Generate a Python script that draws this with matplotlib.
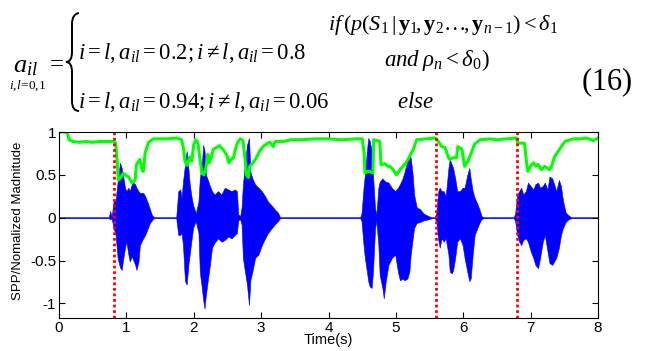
import matplotlib

matplotlib.use('Agg')
import matplotlib.pyplot as plt
from matplotlib.patches import PathPatch
from matplotlib.path import Path
from matplotlib.transforms import IdentityTransform

plt.rcParams['font.family'] = ['Liberation Sans', 'DejaVu Sans']
plt.rcParams['mathtext.fontset'] = 'custom'
plt.rcParams['mathtext.rm'] = 'Liberation Serif'
plt.rcParams['mathtext.it'] = 'Liberation Serif:italic'
plt.rcParams['mathtext.bf'] = 'Liberation Serif:bold'

# speech waveform envelope: time (s), upper and lower peak
wave_t = [0.0, 0.74, 0.76, 0.78,
          0.81, 0.84, 0.87, 0.905, 0.93, 0.955, 0.98, 1.00, 1.03, 1.05, 1.08, 1.10, 1.13, 1.15,
          1.18, 1.20, 1.25, 1.28, 1.32, 1.35, 1.38, 1.41,
          1.74, 1.77, 1.80, 1.82, 1.84, 1.87, 1.895, 1.92, 1.94, 1.97, 1.99, 2.03, 2.07, 2.09,
          2.12, 2.14, 2.16, 2.18, 2.20, 2.24, 2.27, 2.31, 2.36, 2.41, 2.46, 2.51, 2.56, 2.61,
          2.64, 2.66, 2.69, 2.71, 2.73, 2.76, 2.79, 2.82, 2.84, 2.87, 2.91, 2.96, 3.01, 3.06,
          3.10, 3.16, 3.20, 3.25, 3.28,
          4.47, 4.49, 4.52, 4.54, 4.57, 4.59, 4.61, 4.64, 4.66, 4.69, 4.71, 4.74, 4.76, 4.80,
          4.82, 4.85, 4.89, 4.94, 4.99, 5.03, 5.06, 5.10, 5.13, 5.17, 5.20, 5.22, 5.25, 5.27,
          5.31, 5.36, 5.41, 5.48, 5.53, 5.58,
          5.60, 5.63, 5.65, 5.68, 5.71, 5.74, 5.78, 5.80, 5.83, 5.85, 5.88, 5.91, 5.95, 5.99,
          6.02, 6.06, 6.09, 6.11, 6.14, 6.17, 6.21, 6.24, 6.27, 6.30,
          6.75, 6.77, 6.80, 6.83, 6.86, 6.89, 6.93, 6.96, 7.00, 7.04, 7.07, 7.11, 7.14, 7.18,
          7.21, 7.25, 7.28, 7.32, 7.35, 7.38, 7.42, 7.45, 7.48, 7.52, 7.56, 7.60, 8.0]
wave_upper = [0.006, 0.006, 0.08, 0.006,
              0.19, 0.20, 0.42, 0.64, 0.58, 0.47, 0.35, 0.31, 0.35, 0.31, 0.39, 0.41, 0.39, 0.35,
              0.31, 0.29, 0.29, 0.25, 0.17, 0.10, 0.03, 0.006,
              0.006, 0.31, 0.33, 0.23, 0.42, 0.62, 0.78, 0.58, 0.39, 0.23, 0.15, 0.05, 0.19, 0.46,
              0.62, 0.85, 0.78, 0.50, 0.46, 0.37, 0.31, 0.27, 0.31, 0.27, 0.35, 0.33, 0.31, 0.33,
              0.31, 0.04, 0.02, 0.12, 0.39, 0.62, 0.85, 0.93, 0.54, 0.46, 0.39, 0.35, 0.31, 0.25,
              0.19, 0.14, 0.10, 0.06, 0.006,
              0.006, 0.05, 0.35, 0.50, 0.78, 0.93, 0.90, 0.78, 0.50, 0.12, 0.03, 0.35, 0.42, 0.46,
              0.44, 0.42, 0.41, 0.35, 0.31, 0.35, 0.39, 0.46, 0.54, 0.66, 0.74, 0.70, 0.50, 0.27,
              0.12, 0.10, 0.05, 0.02, 0.006, 0.006,
              0.06, 0.31, 0.35, 0.31, 0.31, 0.25, 0.58, 0.68, 0.62, 0.58, 0.46, 0.31, 0.31, 0.35,
              0.35, 0.50, 0.58, 0.46, 0.31, 0.23, 0.16, 0.10, 0.02, 0.006,
              0.006, 0.05, 0.27, 0.31, 0.35, 0.27, 0.31, 0.41, 0.37, 0.33, 0.39, 0.41, 0.35, 0.37,
              0.41, 0.33, 0.48, 0.46, 0.39, 0.31, 0.44, 0.37, 0.20, 0.06, 0.03, 0.006, 0.006]
wave_lower = [-0.006, -0.006, -0.02, -0.006,
              -0.12, -0.20, -0.47, -0.58, -0.61, -0.47, -0.35, -0.28, -0.43, -0.51, -0.45, -0.49, -0.55, -0.61,
              -0.51, -0.32, -0.24, -0.20, -0.12, -0.06, -0.03, -0.006,
              -0.006, -0.20, -0.20, -0.18, -0.32, -0.74, -0.78, -0.55, -0.43, -0.24, -0.12, -0.04, -0.18, -0.63,
              -0.82, -0.96, -1.06, -0.90, -0.78, -0.55, -0.35, -0.29, -0.24, -0.28, -0.26, -0.22, -0.24, -0.20,
              -0.18, -0.03, -0.02, -0.08, -0.47, -0.63, -0.78, -1.02, -0.73, -0.63, -0.47, -0.43, -0.32, -0.24,
              -0.18, -0.12, -0.08, -0.04, -0.006,
              -0.006, -0.04, -0.32, -0.47, -0.63, -0.74, -0.80, -0.82, -0.63, -0.14, -0.03, -0.32, -0.67, -0.82,
              -0.94, -0.74, -0.55, -0.47, -0.43, -0.63, -0.73, -0.71, -0.73, -0.71, -0.63, -0.43, -0.24, -0.12,
              -0.06, -0.05, -0.03, -0.02, -0.006, -0.006,
              -0.05, -0.26, -0.35, -0.24, -0.28, -0.24, -0.43, -0.63, -0.65, -0.61, -0.47, -0.28, -0.24, -0.32,
              -0.47, -0.63, -0.74, -0.71, -0.43, -0.20, -0.12, -0.06, -0.02, -0.006,
              -0.006, -0.04, -0.20, -0.28, -0.32, -0.26, -0.24, -0.28, -0.39, -0.47, -0.55, -0.59, -0.47, -0.28,
              -0.20, -0.39, -0.53, -0.55, -0.51, -0.47, -0.35, -0.20, -0.12, -0.05, -0.02, -0.006, -0.006]

# speech presence probability curve
spp_t = [0.0, 0.12, 0.15, 0.2, 0.3, 0.4, 0.5, 0.6, 0.7, 0.81, 0.84, 0.865, 0.88, 0.92, 0.955,
         1.0, 1.03, 1.08, 1.11, 1.13, 1.15, 1.2, 1.23, 1.25, 1.28, 1.33, 1.4, 1.6,
         1.75, 1.82, 1.85, 1.87, 1.9, 1.94, 1.97, 2.0, 2.03, 2.06, 2.09, 2.12, 2.15, 2.18, 2.21,
         2.23, 2.26, 2.29, 2.34, 2.38, 2.44, 2.49, 2.52, 2.55, 2.59, 2.62, 2.65, 2.69, 2.73,
         2.76, 2.78, 2.81, 2.83, 2.88, 2.93, 2.98, 3.03, 3.08, 3.13, 3.18, 3.21, 3.33, 3.45,
         3.6, 3.8, 4.0, 4.2, 4.4, 4.5, 4.53, 4.54, 4.58, 4.61, 4.66, 4.67, 4.72, 4.76, 4.78,
         4.84, 4.88, 4.91, 4.96, 5.01, 5.06, 5.13, 5.18, 5.26, 5.31, 5.45, 5.58, 5.63, 5.68,
         5.73, 5.78, 5.8, 5.85, 5.9, 5.92, 5.98, 6.02, 6.07, 6.12, 6.17, 6.25, 6.4, 6.5, 6.65,
         6.79, 6.81, 6.91, 6.94, 6.96, 7.0, 7.04, 7.08, 7.11, 7.16, 7.21, 7.28, 7.31, 7.36,
         7.43, 7.51, 7.63, 7.75, 7.83, 7.93, 8.0]
spp = [1.0, 1.0, 0.91, 0.89, 0.88, 0.89, 0.88, 0.89, 0.89, 0.89, 0.87, 0.64, 0.44, 0.47, 0.52,
       0.49, 0.48, 0.41, 0.42, 0.44, 0.62, 0.68, 0.56, 0.54, 0.76, 0.88, 0.92, 0.92,
       0.93, 0.91, 0.80, 0.66, 0.61, 0.71, 0.66, 0.85, 0.91, 0.88, 0.70, 0.52, 0.50, 0.58, 0.74,
       0.64, 0.70, 0.80, 0.82, 0.84, 0.79, 0.73, 0.64, 0.68, 0.70, 0.80, 0.88, 0.92, 0.90,
       0.70, 0.50, 0.47, 0.60, 0.64, 0.70, 0.78, 0.83, 0.86, 0.88, 0.83, 0.89, 0.89, 0.91,
       0.91, 0.92, 0.92, 0.91, 0.92, 0.92, 0.75, 0.52, 0.54, 0.54, 0.52, 0.91, 0.90, 0.89, 0.62,
       0.63, 0.60, 0.60, 0.56, 0.50, 0.56, 0.62, 0.68, 0.80, 0.91, 0.92, 0.93, 0.89, 0.83,
       0.82, 0.70, 0.68, 0.70, 0.70, 0.83, 0.80, 0.60, 0.66, 0.76, 0.86, 0.91, 0.92, 0.91, 0.92,
       0.93, 0.87, 0.87, 0.64, 0.54, 0.60, 0.64, 0.60, 0.62, 0.56, 0.60, 0.56, 0.60, 0.72,
       0.80, 0.89, 0.92, 0.92, 0.93, 0.90, 0.93]

change_points = [0.82, 5.6, 6.8]
x_ticks = [0, 1, 2, 3, 4, 5, 6, 7, 8]
y_ticks = [-1, -0.5, 0, 0.5, 1]
y_tick_labels = ['-1', '-0.5', '0', '0.5', '1']

W, H = 647, 351
fig = plt.figure(figsize=(W / 100, H / 100), dpi=100)


def put(x, y, s, size, **kw):
    fig.text(x / W, 1 - y / H, s, fontsize=size, va='baseline', **kw)


# equation (16) above the plot
put(13, 72, r'$a_{il}$', 19)
put(9, 89, r'$i,\!l\!=\!0,\!1$', 9.5)
put(46, 70, r'$=$', 18)
brace = Path(
    [(79, 13), (72, 14), (72, 24), (72, 52), (72, 62), (66, 62), (72, 62), (72, 72),
     (72, 101), (72, 111), (79, 111)],
    [Path.MOVETO, Path.CURVE3, Path.CURVE3, Path.LINETO, Path.CURVE3, Path.CURVE3,
     Path.CURVE3, Path.CURVE3, Path.LINETO, Path.CURVE3, Path.CURVE3],
)
brace = Path([(px, H - py) for px, py in brace.vertices], brace.codes)
fig.add_artist(PathPatch(brace, transform=IdentityTransform(), fill=False, lw=1.4, color='black'))
put(78, 59, r'$i=l,a_{il}=0.2;i\neq l,a_{il}=0.8$', 16.3)
put(78, 108, r'$i=l,a_{il}=0.94;i\neq l,a_{il}=0.06$', 16.3)
put(328, 30, r'$if\,(p(S_1\,|\,\mathbf{y}_1\!,\mathbf{y}_2$…$\!,\mathbf{y}_{n-1})<\delta_1$', 16,
    family='Liberation Serif')
put(384, 66, r'$and\;\rho_n<\delta_0)$', 16.5)
put(397, 108, r'$else$', 16.5)
put(581, 90, r'$\mathrm{(16)}$', 22)

ax = fig.add_axes([59 / W, 33 / H, 539 / W, 186 / H])
ax.fill_between(wave_t, wave_lower, wave_upper, color='#0000ff', lw=0.4)
ax.plot(spp_t, spp, color='#00ff00', lw=2.2)
for t in change_points:
    ax.axvline(t, color='#ff0000', lw=2, ls=(0, (1, 1)))

ax.set_xlim(0, 8)
ax.set_ylim(-1.17, 1.0)
ax.set_xticks(x_ticks)
ax.set_yticks(y_ticks)
ax.set_yticklabels(y_tick_labels)
ax.tick_params(direction='in', length=4, top=True, right=True, labelsize=11, pad=2)
ax.set_xlabel('Time(s)', fontsize=10.5, labelpad=-1)
ax.set_ylabel('SPP/Nomalized Madnitude', fontsize=9.5)
ax.yaxis.set_label_coords(-0.065, 0.52)

fig.savefig('out.png', dpi=100)
